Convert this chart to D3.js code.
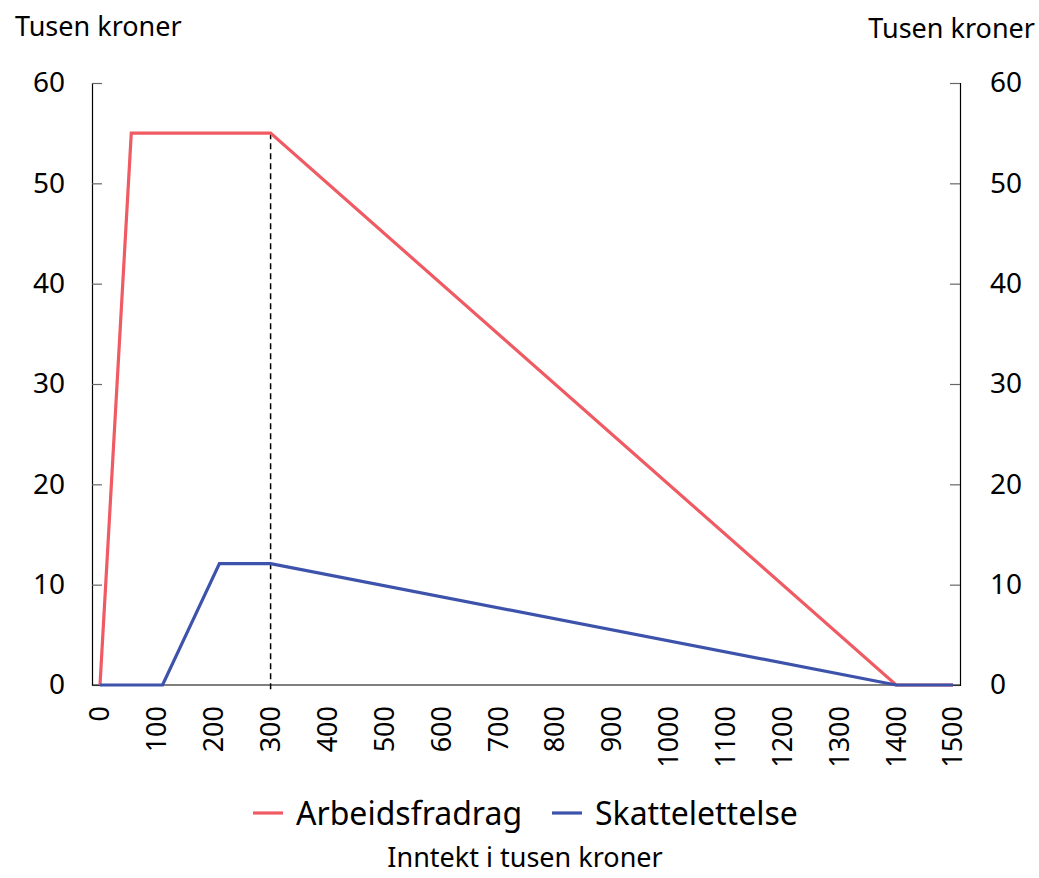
<!DOCTYPE html>
<html>
<head>
<meta charset="utf-8">
<script src="https://cdn.jsdelivr.net/npm/d3@7"></script>
<style>
  body { margin: 0; background: #fff; }
  svg text { font-family: "Noto Sans", "Open Sans", sans-serif; fill: #000; }
</style>
</head>
<body>
<svg id="chart" width="1039" height="878"></svg>
<script>
// income in thousand kroner (x) and value in thousand kroner (y)
const arbeidsX = [0, 55, 300, 1400, 1500];
const arbeidsY = [0, 55, 55, 0, 0];
const skattX = [0, 110, 210, 300, 1400, 1500];
const skattY = [0, 0, 12.1, 12.1, 0, 0];
const xTicks = [0, 100, 200, 300, 400, 500, 600, 700, 800, 900, 1000, 1100, 1200, 1300, 1400, 1500];
const yTicks = [0, 10, 20, 30, 40, 50, 60];
const seriesNames = ["Arbeidsfradrag", "Skattelettelse"];
const seriesColors = ["#ef5a63", "#3d53ab"];
const markerX = 300;

const svg = d3.select("#chart");

const plotLeft = 92, plotRight = 960, plotTop = 83, plotBottom = 685;

const x = d3.scaleLinear().domain([0, 1500]).range([100, 953]);
const y = d3.scaleLinear().domain([0, 60]).range([plotBottom, plotTop]);

// left axis
const yLeft = svg.append("g").attr("transform", `translate(${plotLeft},0)`)
    .call(d3.axisLeft(y).tickValues(yTicks).tickSize(-10).tickPadding(27));
// right axis
const yRight = svg.append("g").attr("transform", `translate(${plotRight},0)`)
    .call(d3.axisRight(y).tickValues(yTicks).tickSize(-10).tickPadding(30));

[yLeft, yRight].forEach(g => {
    g.select(".domain").attr("stroke", "#000").attr("stroke-width", 1.2);
    g.selectAll(".tick line").attr("stroke", "#666").attr("stroke-width", 1.2);
    g.selectAll(".tick text").style("font-size", "28px").attr("fill", "#000");
});
yLeft.selectAll(".tick text").attr("x", -27);

// x axis baseline
svg.append("line")
    .attr("x1", plotLeft).attr("x2", plotRight)
    .attr("y1", plotBottom).attr("y2", plotBottom)
    .attr("stroke", "#000").attr("stroke-width", 1.2);

// x tick labels, rotated
svg.append("g").selectAll("text")
    .data(xTicks)
    .enter()
    .append("text")
    .attr("transform", d => `translate(${x(d)},706) rotate(-90)`)
    .attr("dy", "0.35em")
    .attr("text-anchor", "end")
    .style("font-size", "27px")
    .text(d => d);

// dashed marker
svg.append("line")
    .attr("x1", x(markerX)).attr("x2", x(markerX))
    .attr("y1", y(55)).attr("y2", plotBottom + 6)
    .attr("stroke", "#000").attr("stroke-width", 1.5)
    .attr("stroke-dasharray", "6,4");

const line = d3.line().x(d => x(d[0])).y(d => y(d[1]));

svg.append("path")
    .datum(d3.zip(arbeidsX, arbeidsY))
    .attr("d", line)
    .attr("fill", "none")
    .attr("stroke", seriesColors[0])
    .attr("stroke-width", 3.2)
    .attr("stroke-linejoin", "miter");

svg.append("path")
    .datum(d3.zip(skattX, skattY))
    .attr("d", line)
    .attr("fill", "none")
    .attr("stroke", seriesColors[1])
    .attr("stroke-width", 3.2)
    .attr("stroke-linejoin", "miter");

// axis unit titles
svg.append("text").attr("x", 15).attr("y", 36).style("font-size", "27px").text("Tusen kroner");
svg.append("text").attr("x", 1035).attr("y", 38).attr("text-anchor", "end").style("font-size", "27px").text("Tusen kroner");

// legend
const legendPos = [253, 552];
const legend = svg.append("g").selectAll("g")
    .data(seriesNames)
    .enter()
    .append("g")
    .attr("transform", (d, i) => `translate(${legendPos[i]},813)`);

legend.append("line")
    .attr("x1", 0).attr("x2", 30)
    .attr("stroke", (d, i) => seriesColors[i])
    .attr("stroke-width", 3.2);

legend.append("text")
    .attr("x", 43)
    .attr("dy", "0.36em")
    .style("font-size", "32px")
    .text(d => d);

svg.append("text")
    .attr("x", 525).attr("y", 867)
    .attr("text-anchor", "middle")
    .style("font-size", "27px")
    .text("Inntekt i tusen kroner");
</script>
</body>
</html>
